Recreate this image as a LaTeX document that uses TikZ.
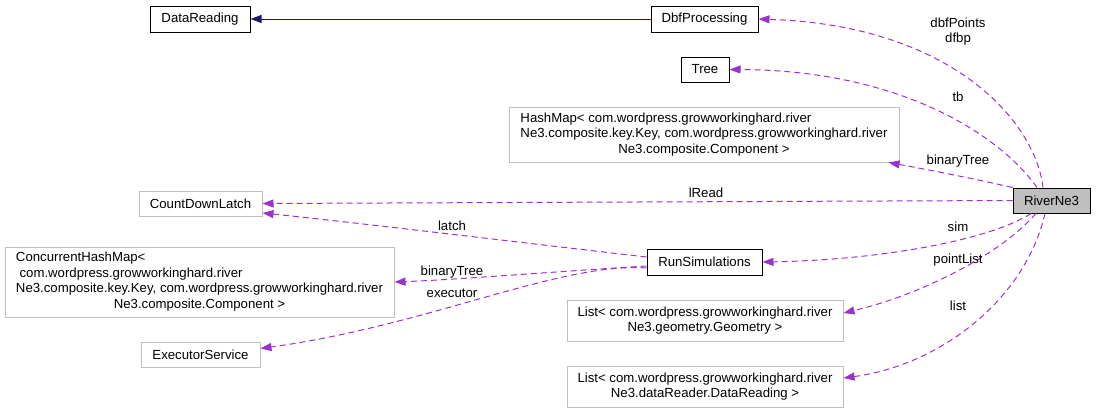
\documentclass[tikz,border=0pt]{standalone}
\usepackage{fontspec}
\setmainfont{Liberation Sans}
\usetikzlibrary{arrows.meta}
\definecolor{edgepurple}{HTML}{9A32CD}
\definecolor{inhblue}{HTML}{191970}
\definecolor{boxgray}{HTML}{BFBFBF}
\newcommand{\dfont}{\fontsize{13.2}{15.5}\selectfont}

\begin{document}
\begin{tikzpicture}[x=1pt,y=-1pt,
  cls/.style={draw=black, line width=1pt, inner sep=0pt, minimum height=26pt, font=\dfont},
  extcls/.style={cls, draw=boxgray},
  focus/.style={cls, fill=boxgray},
  lbl/.style={inner sep=0pt, align=center, font=\dfont},
  memberedge/.style={draw=edgepurple, line width=1pt, dash pattern=on 6pt off 4pt,
    -{Triangle[length=11pt,width=8pt,fill=edgepurple]}},
  inherit/.style={draw=inhblue, line width=1pt,
    -{Triangle[length=11pt,width=8pt,fill=inhblue]}}]
\useasboundingbox (0,0) rectangle (1096,413);
% classes
\node[cls, minimum width=100pt] (datareading) at (200,19) {DataReading};
\node[cls, minimum width=107pt] (dbf) at (704.5,19) {DbfProcessing};
\node[cls, minimum width=48pt, minimum height=25pt] (tree) at (705,69.5) {Tree};
\node[extcls, minimum width=390pt, minimum height=55pt] (hashmap) at (704,134.5)
  {\begin{tabular}{@{}l@{}}HashMap< com.wordpress.growworkinghard.river\\
   Ne3.composite.key.Key, com.wordpress.growworkinghard.river\\
   \multicolumn{1}{@{}c@{}}{Ne3.composite.Component >}\end{tabular}};
\node[extcls, minimum width=123pt, minimum height=25pt] (latch) at (200.5,203.5) {CountDownLatch};
\node[focus, minimum width=77pt, minimum height=25pt] (river) at (1051.5,200.5) {RiverNe3};
\node[cls, minimum width=115pt] (runsim) at (704.5,262) {RunSimulations};
\node[extcls, minimum width=389pt, minimum height=70pt] (concmap) at (199.5,282)
  {\begin{tabular}{@{}l@{}}ConcurrentHashMap<\\
   \hspace{3.6pt}com.wordpress.growworkinghard.river\\
   Ne3.composite.key.Key, com.wordpress.growworkinghard.river\\
   \multicolumn{1}{@{}c@{}}{Ne3.composite.Component >}\end{tabular}};
\node[extcls, minimum width=119pt, minimum height=25pt] (executor) at (200.5,354.5) {ExecutorService};
\node[extcls, minimum width=276pt, minimum height=41pt, align=center] (geomlist) at (705,320.5)
  {List< com.wordpress.growworkinghard.river\\Ne3.geometry.Geometry >};
\node[extcls, minimum width=276pt, minimum height=41pt, align=center] (readlist) at (705,386.5)
  {List< com.wordpress.growworkinghard.river\\Ne3.dataReader.DataReading >};
% inheritance
\draw[inherit] (dbf.west) -- (datareading.east);
% members of RiverNe3
\draw[memberedge] ([xshift=-8.5pt]river.north) .. controls (1035,120) and (950,25) .. (dbf.east);
\draw[memberedge] ([xshift=-14.5pt]river.north) .. controls (1000,135) and (900,70) .. (tree.east);
\draw[memberedge] (river.north west) .. controls (980,180) and (930,170) .. ([xshift=-11pt]hashmap.south east);
\draw[memberedge] (river.west) -- (latch.east);
\draw[memberedge] ([xshift=-20.5pt]river.south) .. controls (990,240) and (880,260) .. (runsim.east);
\draw[memberedge] ([xshift=-15.5pt]river.south) .. controls (1000,255) and (920,295) .. ([yshift=7.5pt]geomlist.east);
\draw[memberedge] ([xshift=-6.5pt]river.south) .. controls (1025,300) and (940,365) .. ([yshift=8.5pt]readlist.east);
% members of RunSimulations
\draw[memberedge] ([yshift=5pt]runsim.west) .. controls (500,240) and (350,222) .. ([yshift=-9.5pt]latch.east);
\draw[memberedge] ([yshift=-4pt]runsim.west) .. controls (550,272) and (450,280) .. (concmap.east);
\draw[memberedge] ([yshift=-6pt]runsim.west) .. controls (560,262) and (430,325) .. ([yshift=6pt]executor.east);
% edge labels
\node[lbl] (dbflbl) at (958,31.5) {dbfPoints\\dfbp};
\node[lbl] (treelbl) at (958,97) {tb};
\node[lbl] (hashlbl) at (958,161) {binaryTree};
\node[lbl] (readlbl) at (706,192.5) {lRead};
\node[lbl] (simlbl) at (958,227) {sim};
\node[lbl] (pointlbl) at (958,260) {pointList};
\node[lbl] (listlbl) at (958,306) {list};
\node[lbl] (latchlbl) at (452,226) {latch};
\node[lbl] (conclbl) at (452,272) {binaryTree};
\node[lbl] (execlbl) at (452,293) {executor};
\end{tikzpicture}
\end{document}
